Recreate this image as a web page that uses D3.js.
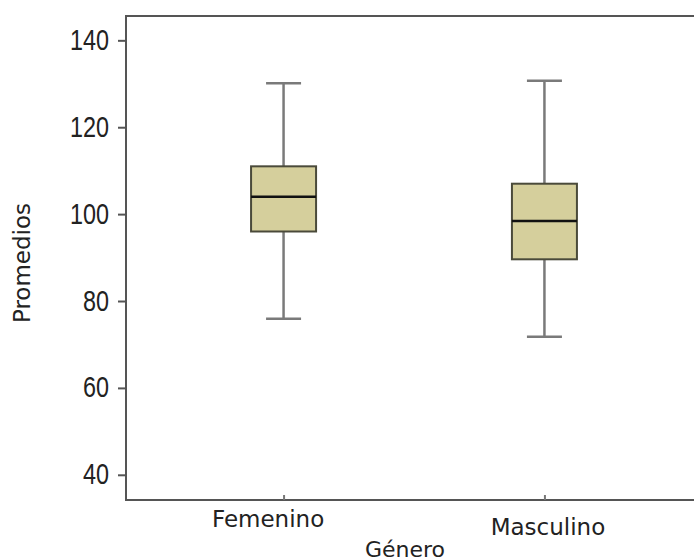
<!DOCTYPE html>
<html>
<head>
<meta charset="utf-8">
<script src="https://cdn.jsdelivr.net/npm/d3@7"></script>
<style>
  body { margin:0; background:#fff; }
  svg { display:block; }
</style>
</head>
<body>
<svg id="chart" width="694" height="560"></svg>
<script>
// data
var categories = ["Femenino", "Masculino"];
var whiskerLow = [75.9, 71.8];
var q1 = [96.0, 89.6];
var median = [104.0, 98.4];
var q3 = [111.0, 107.0];
var whiskerHigh = [130.1, 130.7];
var yTicks = [40, 60, 80, 100, 120, 140];

var rows = categories.map(function(c, i) {
    return {cat:c, lo:whiskerLow[i], q1:q1[i], med:median[i], q3:q3[i], hi:whiskerHigh[i]};
});

var margins = {top:16, bottom:60, left:126, right:-8};
var screen = {width:694, height:560};
var graph = {
    width: screen.width - margins.left - margins.right,
    height: screen.height - margins.top - margins.bottom
};

var svg = d3.select("#chart");

var xScale = d3.scalePoint()
    .domain(categories)
    .range([margins.left, margins.left + graph.width])
    .padding(0.604);

var yScale = d3.scaleLinear()
    .domain([34.2, 145.6])
    .range([margins.top + graph.height, margins.top]);

var boxW = 65, capW = 35;

// frame (left, top, bottom)
svg.append("rect")
    .attr("x", margins.left)
    .attr("y", margins.top)
    .attr("width", graph.width)
    .attr("height", graph.height)
    .attr("fill", "none")
    .attr("stroke", "#555")
    .attr("stroke-width", 2);

// y axis
var yAxis = svg.append("g")
    .attr("transform", "translate(" + margins.left + ",0)")
    .call(d3.axisLeft(yScale).tickValues(yTicks).tickSize(8).tickPadding(9));
yAxis.select(".domain").remove();
yAxis.selectAll(".tick line").attr("stroke", "#555").attr("stroke-width", 2);
// narrow digits like the original
yAxis.selectAll(".tick text")
    .attr("fill", "#222")
    .attr("dy", "0.3em")
    .attr("textLength", function(d) { return String(d).length * 13; })
    .attr("lengthAdjust", "spacingAndGlyphs")
    .style("font-family", "'Liberation Sans', sans-serif")
    .style("font-size", "30px");

// x axis
var xAxis = svg.append("g")
    .attr("transform", "translate(0," + (margins.top + graph.height) + ")")
    .call(d3.axisBottom(xScale).tickSize(5).tickPadding(6));
xAxis.select(".domain").remove();
xAxis.selectAll(".tick line").attr("stroke", "#777").attr("stroke-width", 2)
    .attr("transform", "translate(0,-5)");
xAxis.selectAll(".tick text")
    .attr("fill", "#222")
    .style("font-family", "'DejaVu Sans', Verdana, sans-serif")
    .style("font-size", "23px")
    .attr("dx", function(d) { return d == "Femenino" ? -16 : 3; })
    .attr("dy", function(d) { return d == "Femenino" ? "0.7em" : "1.06em"; });

// boxes
var boxes = svg.append("g").selectAll("g")
    .data(rows)
    .enter()
    .append("g");

boxes.append("line")
    .attr("x1", function(d) { return xScale(d.cat); })
    .attr("x2", function(d) { return xScale(d.cat); })
    .attr("y1", function(d) { return yScale(d.lo); })
    .attr("y2", function(d) { return yScale(d.hi); })
    .attr("stroke", "#7a7a7a")
    .attr("stroke-width", 2.5);

["lo", "hi"].forEach(function(k) {
    boxes.append("line")
        .attr("x1", function(d) { return xScale(d.cat) - capW / 2; })
        .attr("x2", function(d) { return xScale(d.cat) + capW / 2; })
        .attr("y1", function(d) { return yScale(d[k]); })
        .attr("y2", function(d) { return yScale(d[k]); })
        .attr("stroke", "#7a7a7a")
        .attr("stroke-width", 2.5);
});

boxes.append("rect")
    .attr("x", function(d) { return xScale(d.cat) - boxW / 2; })
    .attr("y", function(d) { return yScale(d.q3); })
    .attr("width", boxW)
    .attr("height", function(d) { return yScale(d.q1) - yScale(d.q3); })
    .attr("fill", "#d5cf9c")
    .attr("stroke", "#4a4a3a")
    .attr("stroke-width", 2);

boxes.append("line")
    .attr("x1", function(d) { return xScale(d.cat) - boxW / 2; })
    .attr("x2", function(d) { return xScale(d.cat) + boxW / 2; })
    .attr("y1", function(d) { return yScale(d.med); })
    .attr("y2", function(d) { return yScale(d.med); })
    .attr("stroke", "#111")
    .attr("stroke-width", 2.5);

// axis titles
svg.append("text")
    .text("Género")
    .attr("x", 405)
    .attr("y", 557)
    .attr("text-anchor", "middle")
    .attr("fill", "#222")
    .style("font-family", "'DejaVu Sans', Verdana, sans-serif")
    .style("font-size", "22px");

svg.append("text")
    .text("Promedios")
    .attr("transform", "translate(30,263) rotate(-90)")
    .attr("text-anchor", "middle")
    .attr("fill", "#222")
    .style("font-family", "'DejaVu Sans', Verdana, sans-serif")
    .style("font-size", "23px");
</script>
</body>
</html>
